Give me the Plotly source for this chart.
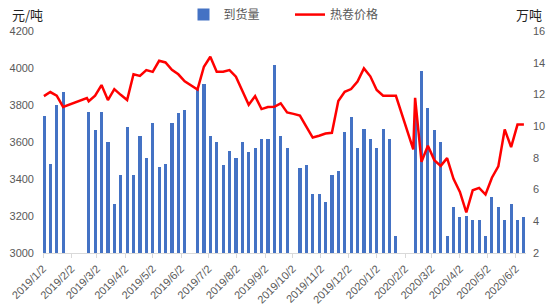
import pandas as pd
import plotly.graph_objects as go

# Weekly dates (Thursdays) for the arrivals / price series
week_dates = pd.date_range("2019-01-03", periods=76, freq="7D")

# 到货量 (万吨), None = no data that week
arrivals = [10.63, 7.63, 11.31, 12.13, None, None, None, 10.87, 9.73, 10.87,
            8.97, 5.06, 6.95, 9.92, 6.95, 9.41, 7.96, 10.17, 7.45, 7.64,
            10.17, 10.86, 10.99, None, 12.32, 12.63, 9.41, 8.97, 7.58, 8.46,
            7.96, 9.03, 8.34, 8.65, 9.16, 9.22, 13.83, 9.35, 8.65, None,
            7.39, 7.58, 5.74, 5.74, 5.24, 6.95, 7.14, 9.66, 10.55, 8.65,
            9.85, 9.22, 8.65, 9.85, 9.22, 3.10, None, None, 11.05, 13.45,
            11.12, 9.73, 9.03, 3.10, 4.87, 4.30, 4.36, 4.05, 4.05, 3.10,
            5.56, 4.87, 4.05, 5.06, 4.05, 4.30]

# 热卷价格 (元/吨)
price = [3848, 3870, 3850, 3790, None, None, None, 3820, 3850, 3908,
         3827, 3886, 3855, 3827, 3966, 3957, 3989, 3979, 4039, 4030,
         3990, 3966, 3928, 3905, 3884, 4007, 4061, 3980, 3980, 3989,
         3953, 3877, 3801, 3848, 3778, 3789, 3790, 3809, 3760, 3752,
         3743, 3683, 3624, 3634, 3646, 3650, 3822, 3871, 3886, 3927,
         3998, 3955, 3881, 3850, 3850, 3850, None, None, 3839, 3493,
         3580, 3502, 3471, 3513, 3401, 3330, 3219, 3339, 3352, 3316,
         3407, 3468, 3668, 3572, 3694, 3694]
extra_price_dates = ["2019-02-19", "2020-02-11"]
extra_price_values = [3838, 3560]

tick_vals = ["2019-01-02", "2019-02-02", "2019-03-02", "2019-04-02", "2019-05-02",
             "2019-06-02", "2019-07-02", "2019-08-02", "2019-09-02", "2019-10-02",
             "2019-11-02", "2019-12-02", "2020-01-02", "2020-02-02", "2020-03-02",
             "2020-04-02", "2020-05-02", "2020-06-02"]
tick_text = ["2019/1/2", "2019/2/2", "2019/3/2", "2019/4/2", "2019/5/2", "2019/6/2",
             "2019/7/2", "2019/8/2", "2019/9/2", "2019/10/2", "2019/11/2", "2019/12/2",
             "2020/1/2", "2020/2/2", "2020/3/2", "2020/4/2", "2020/5/2", "2020/6/2"]

# merge price points
pts = [(d, v) for d, v in zip(week_dates, price)]
pts += [(pd.Timestamp(d), v) for d, v in zip(extra_price_dates, extra_price_values)]
pts.sort(key=lambda p: p[0])
price_dates = [p[0] for p in pts]
price_vals = [p[1] for p in pts]

FONT = "Liberation Sans, Noto Sans CJK SC, sans-serif"
CJK = "Noto Sans CJK SC, sans-serif"
GRAY = "#595959"

fig = go.Figure()
fig.add_trace(go.Bar(x=week_dates, y=arrivals, name="到货量", marker_color="#4472C4",
                     marker_line_width=0, width=3.0e8, yaxis="y", legend="legend"))
fig.add_trace(go.Scatter(x=price_dates, y=price_vals, name="热卷价格", mode="lines",
                         line=dict(color="#FF0000", width=2.5), connectgaps=True,
                         yaxis="y2", legend="legend2"))

leg_common = dict(orientation="h", y=1.074, yanchor="middle", xanchor="left",
                  font=dict(family=CJK, size=12, color=GRAY),
                  bgcolor="rgba(0,0,0,0)", borderwidth=0)

fig.update_layout(
    width=554, height=308,
    margin=dict(l=43, r=28, t=31, b=55, autoexpand=False),
    plot_bgcolor="white", paper_bgcolor="white",
    font=dict(family=FONT, size=11, color=GRAY),
    showlegend=True,
    legend=dict(x=0.2909, **leg_common),
    legend2=dict(x=0.5114, **leg_common),
    bargap=0,
    xaxis=dict(type="date", range=["2019-01-02", "2020-06-13 07:00"],
               tickmode="array", tickvals=tick_vals, ticktext=tick_text,
               tickangle=-45, ticks="outside", ticklen=4, tickcolor="#d9d9d9",
               showline=True, linecolor="#d9d9d9", linewidth=1, showgrid=False,
               zeroline=False, automargin=False, ticklabelstandoff=0,
               tickfont=dict(size=11, color=GRAY)),
    yaxis=dict(side="right", range=[2, 16], dtick=2, tick0=2, showgrid=False,
               zeroline=False, showline=False, automargin=False,
               tickfont=dict(size=11, color=GRAY), ticklabelstandoff=6),
    yaxis2=dict(side="left", overlaying="y", range=[3000, 4200], dtick=200, tick0=3000,
                showgrid=False, zeroline=False, showline=False, automargin=False,
                tickfont=dict(size=11, color=GRAY), ticklabelstandoff=8),
    annotations=[
        dict(text="元/吨", xref="paper", yref="paper", x=-0.068, y=1.074,
             xanchor="left", yanchor="middle", showarrow=False,
             font=dict(family=CJK, size=13, color="#222")),
        dict(text="万吨", xref="paper", yref="paper", x=1.037, y=1.074,
             xanchor="right", yanchor="middle", showarrow=False,
             font=dict(family=CJK, size=13, color="#222")),
    ],
)

fig.write_html("out.html")
